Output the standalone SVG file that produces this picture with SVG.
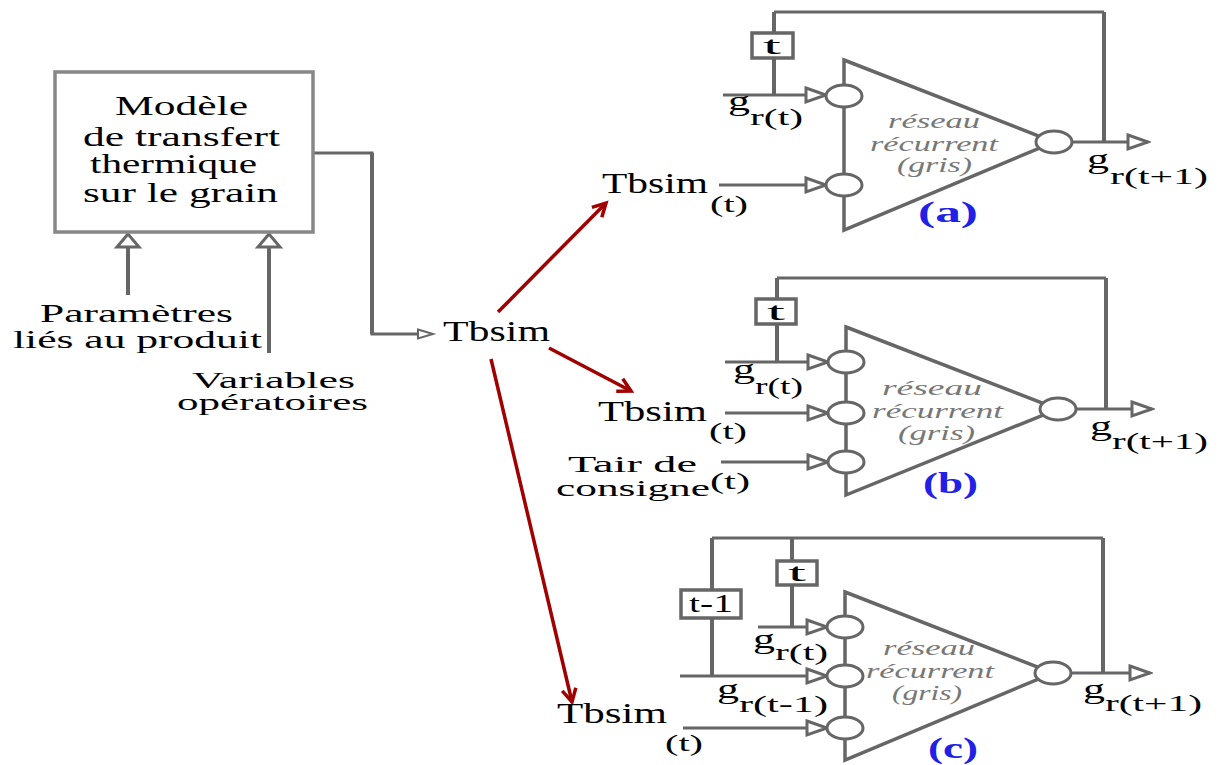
<svg xmlns="http://www.w3.org/2000/svg" width="1218" height="765" viewBox="0 0 1218 765" font-family="'Times New Roman', 'Liberation Serif', Times, Tinos, serif">
<style>
text{font-family:'Times New Roman','Liberation Serif',Times,Tinos,serif;fill:#000}
.ln{stroke:#666;stroke-width:3;fill:none}
.lv{stroke:#666;stroke-width:4;fill:none}
.nd{fill:#fff;stroke:#666;stroke-width:3}
.tri{fill:none;stroke:#666;stroke-width:3.5;stroke-linejoin:miter}
.box{fill:#fff;stroke:#666;stroke-width:3.5}
.red{stroke:#a00000;stroke-width:3.5;fill:none}
.it{font-style:italic;fill:#777;font-size:20px}
.lab{font-weight:bold;fill:#2020e6;font-size:30px}
.big{font-size:29px}
.g{font-size:27px}
.sub{font-size:23px}
</style>
<defs>
<marker id="tri" markerUnits="userSpaceOnUse" viewBox="-3 -10 26 20" markerWidth="26" markerHeight="20" refX="20" refY="0" orient="auto">
<path d="M0,-7 L20,0 L0,7 Z" fill="#fff" stroke="#666" stroke-width="3"/>
</marker>
<marker id="rh" markerUnits="userSpaceOnUse" viewBox="-16 -10 20 20" markerWidth="20" markerHeight="20" refX="0" refY="0" orient="auto">
<path d="M-13,-7 L0,0 L-13,7" fill="none" stroke="#a00000" stroke-width="3.5"/>
</marker>
</defs>
<rect width="1218" height="765" fill="#fff"/>

<g id="connectors">
<polyline class="ln" points="313,153 372,153 372,334 420,334"/>
<line class="lv" x1="372" y1="153" x2="372" y2="334"/>
<polygon points="418,329.5 433,334 418,338.5" fill="#fff" stroke="#666" stroke-width="2"/>
<line class="lv" x1="128" y1="247" x2="128" y2="295"/>
<polygon points="128,234 117,247 139,247" fill="#fff" stroke="#666" stroke-width="3"/>
<line class="lv" x1="269" y1="247" x2="269" y2="353"/>
<polygon points="269,234 258,247 280,247" fill="#fff" stroke="#666" stroke-width="3"/>
<line class="red" x1="498" y1="312" x2="606" y2="203" marker-end="url(#rh)"/>
<line class="red" x1="549" y1="348" x2="631" y2="391" marker-end="url(#rh)"/>
<line class="red" x1="491" y1="359" x2="572" y2="702" marker-end="url(#rh)"/>
</g>

<g id="modele">
<rect x="55" y="72" width="258" height="160" fill="#fff" stroke="#888" stroke-width="3.5"/>
<text x="115" y="115" font-size="27" textLength="133" lengthAdjust="spacingAndGlyphs">Modèle</text>
<text x="83" y="146" font-size="27" textLength="197" lengthAdjust="spacingAndGlyphs">de transfert</text>
<text x="90" y="173" font-size="27" textLength="167" lengthAdjust="spacingAndGlyphs">thermique</text>
<text x="83" y="202" font-size="27" textLength="195" lengthAdjust="spacingAndGlyphs">sur le grain</text>
</g>

<g id="parametres">
<text x="40" y="322" font-size="25" textLength="193" lengthAdjust="spacingAndGlyphs">Paramètres</text>
<text x="13" y="348" font-size="25" textLength="249" lengthAdjust="spacingAndGlyphs">liés au produit</text>
</g>
<g id="variables">
<text x="192" y="388" font-size="23" textLength="163" lengthAdjust="spacingAndGlyphs">Variables</text>
<text x="177" y="410" font-size="23" textLength="191" lengthAdjust="spacingAndGlyphs">opératoires</text>
</g>
<g id="tbsim">
<text class="big" x="443" y="341" textLength="107" lengthAdjust="spacingAndGlyphs">Tbsim</text>
</g>

<g id="reseau-a">
<line class="ln" x1="774" y1="12" x2="1104" y2="12"/>
<line class="lv" x1="774" y1="12" x2="774" y2="95"/>
<line class="lv" x1="1104" y1="12" x2="1104" y2="142"/>
<rect class="box" x="752" y="33" width="41" height="25"/>
<text x="763" y="54" font-size="25" textLength="18" lengthAdjust="spacingAndGlyphs">t</text>
<line class="ln" x1="723" y1="95" x2="826" y2="95" marker-end="url(#tri)"/>
<line class="ln" x1="719" y1="185" x2="826" y2="185" marker-end="url(#tri)"/>
<polygon class="tri" points="844,60 1054,142 844,230"/>
<ellipse class="nd" cx="844" cy="96" rx="18" ry="11"/>
<ellipse class="nd" cx="844" cy="185" rx="18" ry="11"/>
<ellipse class="nd" cx="1054" cy="142" rx="18" ry="11"/>
<line class="ln" x1="1072" y1="142" x2="1148" y2="142" marker-end="url(#tri)"/>
<text class="g" x="728" y="110" textLength="22" lengthAdjust="spacingAndGlyphs">g</text>
<text class="sub" x="750" y="125" textLength="53" lengthAdjust="spacingAndGlyphs">r(t)</text>
<text class="big" x="602" y="193" textLength="106" lengthAdjust="spacingAndGlyphs">Tbsim</text>
<text class="sub" x="710" y="212" textLength="38" lengthAdjust="spacingAndGlyphs">(t)</text>
<text class="it" x="888" y="128" textLength="92" lengthAdjust="spacingAndGlyphs">réseau</text>
<text class="it" x="870" y="151" textLength="128" lengthAdjust="spacingAndGlyphs">récurrent</text>
<text class="it" x="897" y="172" textLength="75" lengthAdjust="spacingAndGlyphs">(gris)</text>
<text class="lab" x="918" y="222" textLength="60" lengthAdjust="spacingAndGlyphs">(a)</text>
<text class="g" x="1087" y="168" textLength="22" lengthAdjust="spacingAndGlyphs">g</text>
<text class="sub" x="1110" y="184" textLength="98" lengthAdjust="spacingAndGlyphs">r(t+1)</text>
</g>

<g id="reseau-b">
<line class="ln" x1="777" y1="278" x2="1106" y2="278"/>
<line class="lv" x1="777" y1="278" x2="777" y2="362"/>
<line class="lv" x1="1106" y1="278" x2="1106" y2="409"/>
<rect class="box" x="756" y="299" width="40" height="25"/>
<text x="767" y="320" font-size="25" textLength="18" lengthAdjust="spacingAndGlyphs">t</text>
<line class="ln" x1="725" y1="362" x2="828" y2="362" marker-end="url(#tri)"/>
<line class="ln" x1="725" y1="413" x2="828" y2="413" marker-end="url(#tri)"/>
<line class="ln" x1="721" y1="462" x2="828" y2="462" marker-end="url(#tri)"/>
<polygon class="tri" points="846,327 1058,409 846,495"/>
<ellipse class="nd" cx="846" cy="362" rx="18" ry="11"/>
<ellipse class="nd" cx="846" cy="413" rx="18" ry="11"/>
<ellipse class="nd" cx="846" cy="462" rx="18" ry="11"/>
<ellipse class="nd" cx="1058" cy="409" rx="18" ry="11"/>
<line class="ln" x1="1076" y1="409" x2="1152" y2="409" marker-end="url(#tri)"/>
<text class="g" x="733" y="378" textLength="22" lengthAdjust="spacingAndGlyphs">g</text>
<text class="sub" x="755" y="394" textLength="48" lengthAdjust="spacingAndGlyphs">r(t)</text>
<text class="big" x="598" y="421" textLength="109" lengthAdjust="spacingAndGlyphs">Tbsim</text>
<text class="sub" x="709" y="439" textLength="38" lengthAdjust="spacingAndGlyphs">(t)</text>
<text x="568" y="472" font-size="24" textLength="129" lengthAdjust="spacingAndGlyphs">Tair de</text>
<text x="556" y="496" font-size="24" textLength="154" lengthAdjust="spacingAndGlyphs">consigne</text>
<text class="sub" x="710" y="489" textLength="40" lengthAdjust="spacingAndGlyphs">(t)</text>
<text class="it" x="882" y="395" textLength="100" lengthAdjust="spacingAndGlyphs">réseau</text>
<text class="it" x="872" y="418" textLength="131" lengthAdjust="spacingAndGlyphs">récurrent</text>
<text class="it" x="898" y="440" textLength="77" lengthAdjust="spacingAndGlyphs">(gris)</text>
<text class="lab" x="923" y="493" textLength="55" lengthAdjust="spacingAndGlyphs">(b)</text>
<text class="g" x="1090" y="435" textLength="22" lengthAdjust="spacingAndGlyphs">g</text>
<text class="sub" x="1112" y="449" textLength="96" lengthAdjust="spacingAndGlyphs">r(t+1)</text>
</g>

<g id="reseau-c">
<line class="ln" x1="712" y1="538" x2="1103" y2="538"/>
<line class="lv" x1="712" y1="538" x2="712" y2="676"/>
<line class="lv" x1="792" y1="538" x2="792" y2="627"/>
<line class="lv" x1="1103" y1="538" x2="1103" y2="673"/>
<rect class="box" x="681" y="590" width="60" height="28"/>
<text x="689" y="612" font-size="25" textLength="44" lengthAdjust="spacingAndGlyphs">t-1</text>
<rect class="box" x="777" y="561" width="40" height="24"/>
<text x="788" y="581" font-size="25" textLength="18" lengthAdjust="spacingAndGlyphs">t</text>
<line class="ln" x1="758" y1="627" x2="827" y2="627" marker-end="url(#tri)"/>
<line class="ln" x1="680" y1="676" x2="827" y2="676" marker-end="url(#tri)"/>
<line class="ln" x1="683" y1="728" x2="827" y2="728" marker-end="url(#tri)"/>
<polygon class="tri" points="845,592 1053,673 845,760"/>
<ellipse class="nd" cx="845" cy="627" rx="18" ry="11"/>
<ellipse class="nd" cx="845" cy="676" rx="18" ry="11"/>
<ellipse class="nd" cx="845" cy="728" rx="18" ry="11"/>
<ellipse class="nd" cx="1053" cy="673" rx="18" ry="11"/>
<line class="ln" x1="1071" y1="673" x2="1150" y2="673" marker-end="url(#tri)"/>
<text class="g" x="753" y="648" textLength="22" lengthAdjust="spacingAndGlyphs">g</text>
<text class="sub" x="775" y="660" textLength="53" lengthAdjust="spacingAndGlyphs">r(t)</text>
<text class="g" x="717" y="698" textLength="22" lengthAdjust="spacingAndGlyphs">g</text>
<text class="sub" x="739" y="712" textLength="89" lengthAdjust="spacingAndGlyphs">r(t-1)</text>
<text class="big" x="557" y="723" textLength="110" lengthAdjust="spacingAndGlyphs">Tbsim</text>
<text class="sub" x="665" y="751" textLength="38" lengthAdjust="spacingAndGlyphs">(t)</text>
<text class="it" x="883" y="655" textLength="92" lengthAdjust="spacingAndGlyphs">réseau</text>
<text class="it" x="866" y="678" textLength="128" lengthAdjust="spacingAndGlyphs">récurrent</text>
<text class="it" x="892" y="700" textLength="70" lengthAdjust="spacingAndGlyphs">(gris)</text>
<text class="lab" x="928" y="758" textLength="50" lengthAdjust="spacingAndGlyphs">(c)</text>
<text class="g" x="1083" y="698" textLength="22" lengthAdjust="spacingAndGlyphs">g</text>
<text class="sub" x="1105" y="711" textLength="97" lengthAdjust="spacingAndGlyphs">r(t+1)</text>
</g>
</svg>
